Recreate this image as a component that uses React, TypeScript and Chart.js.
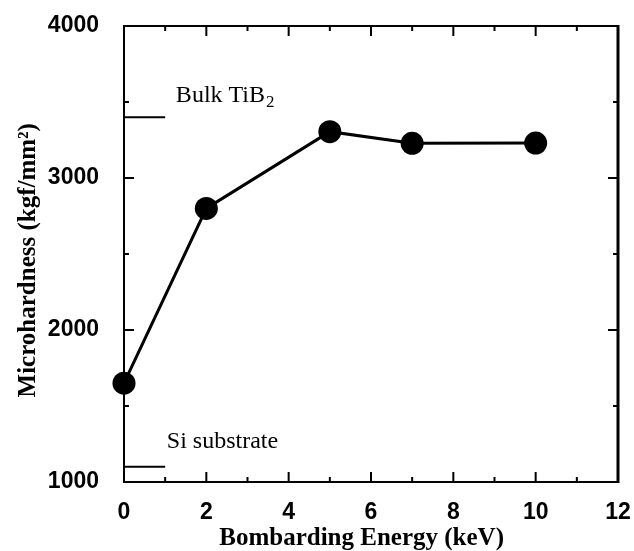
import React, { useEffect, useRef } from "react";
import { Chart, registerables } from "chart.js";

Chart.register(...registerables);

// ---- data ----
const energy = [0, 2, 5, 7, 10];
const hardness = [1650, 2800, 3305, 3228, 3230];
const refLineX = [0, 1];
const bulkTiB2 = 3400;
const siSubstrate = 1100;

const xMajorTicks = [0, 2, 4, 6, 8, 10, 12];
const xMinorTicks = [1, 3, 5, 7, 9, 11];
const yMajorTicks = [1000, 2000, 3000, 4000];
const yMinorTicks = [1500, 2500, 3500];

const bulkLabelPos = { x: 1.26, y: 3500 };
const siLabelPos = { x: 1.04, y: 1224 };

const xTitle = "Bombarding Energy (keV)";
const yTitle = "Microhardness (kgf/mm²)";

const framePlugin = {
  id: "frameTicks",
  afterDatasetsDraw(chart: any) {
    const { ctx, chartArea } = chart;
    const xs = chart.scales.x;
    const ys = chart.scales.y;
    const { left, right, top, bottom } = chartArea;
    ctx.save();
    ctx.strokeStyle = "#000";
    // frame top & right
    ctx.lineWidth = 2;
    ctx.beginPath();
    ctx.moveTo(left, top);
    ctx.lineTo(right, top);
    ctx.stroke();
    ctx.lineWidth = 3;
    ctx.beginPath();
    ctx.moveTo(right, top - 1);
    ctx.lineTo(right, bottom + 1);
    ctx.stroke();
    ctx.lineWidth = 2;
    const drawX = (vals: number[], len: number) => {
      vals.forEach((v) => {
        const px = xs.getPixelForValue(v);
        if (px <= left + 1 || px >= right - 1) return;
        ctx.beginPath();
        ctx.moveTo(px, bottom);
        ctx.lineTo(px, bottom - len);
        ctx.moveTo(px, top);
        ctx.lineTo(px, top + len);
        ctx.stroke();
      });
    };
    const drawY = (vals: number[], len: number) => {
      vals.forEach((v) => {
        const py = ys.getPixelForValue(v);
        if (py <= top + 1 || py >= bottom - 1) return;
        ctx.beginPath();
        ctx.moveTo(left, py);
        ctx.lineTo(left + len, py);
        ctx.moveTo(right, py);
        ctx.lineTo(right - len, py);
        ctx.stroke();
      });
    };
    drawX(xMajorTicks, 10);
    drawX(xMinorTicks, 5);
    drawY(yMajorTicks, 10);
    drawY(yMinorTicks, 5);

    // annotations
    ctx.fillStyle = "#000";
    ctx.textBaseline = "alphabetic";
    ctx.textAlign = "left";
    const font = "24px 'Liberation Serif', 'Times New Roman', serif";
    const subFont = "17px 'Liberation Serif', 'Times New Roman', serif";
    ctx.font = font;
    const bx = xs.getPixelForValue(bulkLabelPos.x);
    const by = ys.getPixelForValue(bulkLabelPos.y);
    const main = "Bulk TiB";
    ctx.fillText(main, bx, by);
    const w = ctx.measureText(main).width;
    ctx.font = subFont;
    ctx.fillText("2", bx + w + 1, by + 5);
    ctx.font = font;
    ctx.fillText(
      "Si substrate",
      xs.getPixelForValue(siLabelPos.x),
      ys.getPixelForValue(siLabelPos.y)
    );
    ctx.restore();
  },
};

export default function App() {
  const ref = useRef<HTMLCanvasElement | null>(null);
  useEffect(() => {
    if (!ref.current) return;
    const tickFont = {
      family: "'Liberation Sans', Arial, sans-serif",
      size: 23,
      weight: "bold" as const,
    };
    const titleFont = {
      family: "'Liberation Serif', 'Times New Roman', serif",
      size: 25,
      weight: "bold" as const,
      lineHeight: 1,
    };
    const chart = new Chart(ref.current, {
      type: "scatter",
      data: {
        datasets: [
          {
            data: energy.map((x, i) => ({ x, y: hardness[i] })),
            showLine: true,
            borderColor: "#000",
            backgroundColor: "#000",
            borderWidth: 3,
            pointRadius: 11.5,
            pointBorderWidth: 0,
            clip: false as any,
          },
          {
            data: refLineX.map((x) => ({ x, y: bulkTiB2 })),
            showLine: true,
            borderColor: "#000",
            borderWidth: 2,
            pointRadius: 0,
            clip: false as any,
          },
          {
            data: refLineX.map((x) => ({ x, y: siSubstrate })),
            showLine: true,
            borderColor: "#000",
            borderWidth: 2,
            pointRadius: 0,
            clip: false as any,
          },
        ],
      },
      options: {
        animation: false,
        responsive: false,
        devicePixelRatio: 1,
        layout: { padding: { left: 0, right: 16, top: 26, bottom: 0 } },
        plugins: {
          legend: { display: false },
          tooltip: { enabled: false },
        },
        scales: {
          x: {
            type: "linear",
            min: 0,
            max: 12,
            afterFit: (s: any) => {
              s.height = 69;
              s.paddingLeft = 0;
              s.paddingRight = 0;
              s.paddingTop = 0;
              s.paddingBottom = 0;
            },
            afterBuildTicks: (s: any) => {
              s.ticks = xMajorTicks.map((v) => ({ value: v }));
            },
            grid: { display: false, drawTicks: false },
            border: { display: true, color: "#000", width: 2 },
            ticks: {
              color: "#000",
              font: tickFont,
              padding: 17,
              maxRotation: 0,
              callback: (v: any) => String(v),
            },
            title: {
              display: true,
              text: xTitle + "   ",
              color: "#000",
              font: titleFont,
              padding: 0,
            },
          },
          y: {
            type: "linear",
            min: 1000,
            max: 4000,
            afterFit: (s: any) => {
              s.width = 124;
              s.paddingLeft = 0;
              s.paddingRight = 0;
              s.paddingTop = 0;
              s.paddingBottom = 0;
            },
            afterBuildTicks: (s: any) => {
              s.ticks = yMajorTicks.map((v) => ({ value: v }));
            },
            grid: { display: false, drawTicks: false },
            border: { display: true, color: "#000", width: 2 },
            ticks: {
              color: "#000",
              font: tickFont,
              padding: 25,
              callback: (v: any) => String(v),
            },
            title: {
              display: true,
              text: yTitle + "  ",
              color: "#000",
              font: titleFont,
              padding: { top: 16, bottom: 0 },
            },
          },
        },
      },
      plugins: [framePlugin],
    });
    return () => chart.destroy();
  }, []);
  return (
    <div
      style={{
        position: "fixed",
        left: 0,
        top: 0,
        width: 634,
        height: 551,
        background: "#fff",
      }}
    >
      <canvas ref={ref} width={634} height={551} />
    </div>
  );
}
